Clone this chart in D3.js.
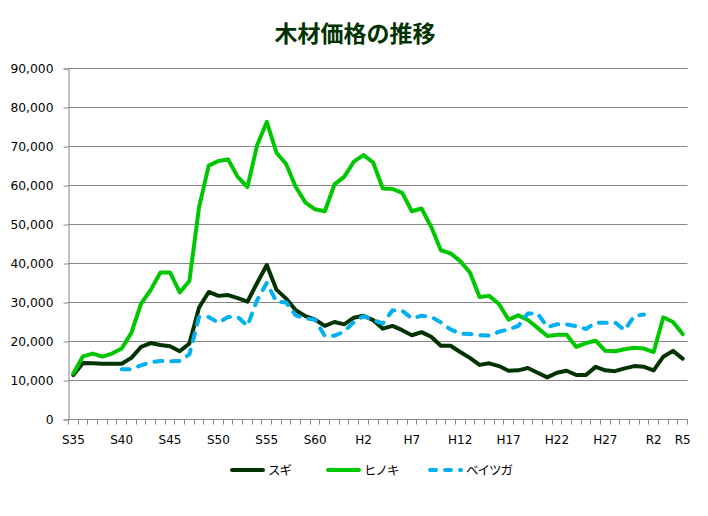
<!DOCTYPE html>
<html>
<head>
<meta charset="utf-8">
<script src="https://cdn.jsdelivr.net/npm/d3@7"></script>
<style>
  body { margin: 0; background: #fff; }
  svg { display: block; }
</style>
</head>
<body>
<div id="chart"></div>
<script>
// 年（和暦）
const categories = [
  "S35","S36","S37","S38","S39","S40","S41","S42","S43","S44",
  "S45","S46","S47","S48","S49","S50","S51","S52","S53","S54",
  "S55","S56","S57","S58","S59","S60","S61","S62","S63","H1",
  "H2","H3","H4","H5","H6","H7","H8","H9","H10","H11",
  "H12","H13","H14","H15","H16","H17","H18","H19","H20","H21",
  "H22","H23","H24","H25","H26","H27","H28","H29","H30","R1",
  "R2","R3","R4","R5"
];
const tickLabels = ["S35","S40","S45","S50","S55","S60","H2","H7","H12","H17","H22","H27","R2","R5"];
const yTicks = [0,10000,20000,30000,40000,50000,60000,70000,80000,90000];

const sugi = [
  11400,14500,14400,14300,14300,14300,15800,18600,19600,19100,
  18800,17500,19500,28700,32700,31700,31900,31100,30200,35000,
  39600,33300,31000,28000,26500,25600,24000,25000,24400,26100,
  26600,25500,23300,24000,22900,21600,22400,21200,18900,18900,
  17300,15800,14000,14400,13700,12500,12600,13200,12000,10800,
  12000,12500,11400,11400,13500,12600,12400,13100,13700,13500,
  12600,16100,17600,15600
];
const hinoki = [
  11800,16200,16900,16100,16900,18200,22200,29700,33200,37700,
  37700,32600,35500,54500,65100,66300,66700,62200,59600,70300,
  76300,68400,65500,59600,55600,53900,53400,60300,62200,66100,
  67800,65900,59200,59100,58100,53400,54100,49400,43400,42600,
  40600,37700,31400,31700,29600,25600,26700,25500,23500,21400,
  21700,21700,18600,19600,20200,17600,17500,18000,18400,18200,
  17300,26200,25000,21900
];
const beitsuga = [
  null,null,null,null,null,12900,12900,13900,14700,15000,
  14900,15000,16700,26300,26300,24800,26300,26300,24000,30600,
  35000,30200,30000,26700,25900,25600,21400,21500,22500,25000,
  26500,25500,24600,28000,27900,25900,26600,26300,24900,23100,
  22000,21900,21600,21500,22500,23100,24000,27200,27200,23700,
  24400,24400,23900,23200,24800,24800,24900,22900,26600,26900,
  null,null,null,null
];

const series = [
  { name: "スギ", values: sugi, color: "#003300", dash: null },
  { name: "ヒノキ", values: hinoki, color: "#00c800", dash: null },
  { name: "ベイツガ", values: beitsuga, color: "#00b0f0", dash: "8,9" }
];

const width = 708, height = 516;
const plot = { left: 68.5, right: 687.5, top: 68.5, bottom: 419.5 };

const svg = d3.select("#chart").append("svg")
    .attr("width", width)
    .attr("height", height);

svg.append("text")
    .attr("x", 355)
    .attr("y", 42)
    .attr("text-anchor", "middle")
    .style("font-family", "'Noto Sans CJK JP', sans-serif")
    .style("font-weight", "bold")
    .style("font-size", "23px")
    .style("fill", "#003300")
    .text("木材価格の推移");

const x = d3.scaleBand()
    .domain(categories)
    .range([plot.left, plot.right]);

const y = d3.scaleLinear()
    .domain([0, 90000])
    .range([plot.bottom, plot.top]);

// gridlines
svg.append("g")
    .selectAll("line")
    .data(yTicks.slice(1))
    .enter().append("line")
    .attr("x1", plot.left)
    .attr("x2", plot.right)
    .attr("y1", d => y(d))
    .attr("y2", d => y(d))
    .attr("stroke", "#868686")
    .attr("stroke-width", 1);

// y axis
const yAxis = svg.append("g")
    .attr("transform", "translate(" + plot.left + ",0)")
    .call(d3.axisLeft(y).tickValues(yTicks).tickSize(5).tickPadding(10)
        .tickFormat(d3.format(",")));
yAxis.select(".domain").attr("stroke", "#868686");
yAxis.selectAll(".tick line").attr("stroke", "#868686");
yAxis.selectAll("text")
    .style("font-family", "'DejaVu Sans', Verdana, sans-serif")
    .style("font-size", "12.3px")
    .style("fill", "#000");

// x axis: ticks between categories
const xg = svg.append("g");
const bounds = categories.map(c => x(c)).concat([plot.right]);
xg.selectAll("line")
    .data(bounds)
    .enter().append("line")
    .attr("x1", d => Math.round(d - 0.5) + 0.5)
    .attr("x2", d => Math.round(d - 0.5) + 0.5)
    .attr("y1", plot.bottom)
    .attr("y2", plot.bottom + 5)
    .attr("stroke", "#868686");
xg.append("line")
    .attr("x1", plot.left)
    .attr("x2", plot.right)
    .attr("y1", plot.bottom)
    .attr("y2", plot.bottom)
    .attr("stroke", "#868686");
xg.selectAll("text")
    .data(tickLabels)
    .enter().append("text")
    .attr("x", d => x(d) + x.bandwidth() / 2)
    .attr("y", plot.bottom + 24)
    .attr("text-anchor", "middle")
    .style("font-family", "'DejaVu Sans', Verdana, sans-serif")
    .style("font-size", "12px")
    .style("fill", "#000")
    .text(d => d);

// lines
const line = d3.line()
    .defined(d => d.v != null)
    .x(d => x(d.c) + x.bandwidth() / 2)
    .y(d => y(d.v));

series.forEach(s => {
    const pts = categories.map((c, i) => ({ c: c, v: s.values[i] }));
    svg.append("path")
        .datum(pts)
        .attr("d", line)
        .attr("fill", "none")
        .attr("stroke", s.color)
        .attr("stroke-width", 4)
        .attr("stroke-linejoin", "round")
        .attr("stroke-linecap", "round")
        .attr("stroke-dasharray", s.dash);
});

// legend
const legendX = [230, 326, 428];
const legend = svg.append("g")
    .selectAll("g")
    .data(series)
    .enter().append("g")
    .attr("transform", (d, i) => "translate(" + legendX[i] + ",470)");
legend.append("line")
    .attr("x1", 2).attr("x2", 33)
    .attr("y1", 0).attr("y2", 0)
    .attr("stroke", d => d.color)
    .attr("stroke-width", 4)
    .attr("stroke-linecap", "round")
    .attr("stroke-dasharray", d => d.dash ? "6,9" : null);
legend.append("text")
    .attr("x", 38)
    .attr("y", 4.5)
    .style("font-family", "'Noto Sans CJK JP', sans-serif")
    .style("font-size", "12.5px")
    .style("letter-spacing", "-1px")
    .style("fill", "#000")
    .text(d => d.name);
</script>
</body>
</html>
